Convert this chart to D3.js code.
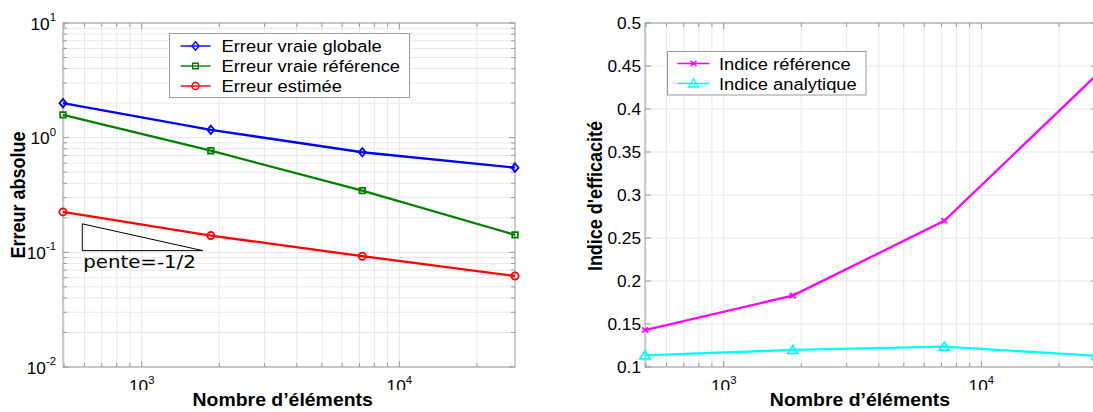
<!DOCTYPE html>
<html>
<head>
<meta charset="utf-8">
<script src="https://cdn.jsdelivr.net/npm/d3@7"></script>
<style>
  html, body { margin: 0; padding: 0; background: #fff; }
  svg { display: block; }
</style>
</head>
<body>
<svg id="fig" width="1093" height="412"></svg>
<script>
// ---- data ----
const elements      = [495, 1855, 7180, 28100];        // Nombre d'éléments
const errGlobal     = [2.0, 1.17, 0.746, 0.547];        // Erreur vraie globale
const errReference  = [1.58, 0.77, 0.345, 0.142];       // Erreur vraie référence
const errEstimated  = [0.225, 0.140, 0.0925, 0.0622];   // Erreur estimée
const idxReference  = [0.143, 0.183, 0.270, 0.440];     // Indice référence
const idxAnalytic   = [0.1136, 0.1198, 0.1236, 0.113];  // Indice analytique
const errExponents  = [-2, -1, 0, 1];                   // y ticks, left panel (10^k)
const nExponents    = [3, 4];                           // x ticks (10^k)
const idxTicks      = [0.1, 0.15, 0.2, 0.25, 0.3, 0.35, 0.4, 0.45, 0.5];
const slopeN        = [588, 1725];                      // slope triangle extent
const slopeBase     = 0.1035;
const slopeValue    = -0.5;

// ---- styling ----
const SX = 1.08;                       // slight horizontal stretch of text
const FONT = "'Liberation Sans', Arial, Helvetica, sans-serif";
const GRID = "#e8e8e8", BOX = "#9c9c9c";
const svg = d3.select("#fig");

function text(g, x, y, str, o = {}) {
  const t = g.append("text")
    .attr("transform", `translate(${x},${y}) scale(${SX},1)` + (o.rotate ? ` rotate(${o.rotate})` : ""))
    .attr("font-family", o.family || FONT)
    .attr("font-size", o.size || 16)
    .attr("font-weight", o.weight || "normal")
    .attr("text-anchor", o.anchor || "start")
    .attr("fill", "#000")
    .text(str);
  return t;
}
function powText(g, x, y, exp, anchor) {
  const t = g.append("text")
    .attr("transform", `translate(${x},${y}) scale(${SX},1)`)
    .attr("font-family", FONT).attr("font-size", 16)
    .attr("text-anchor", anchor).attr("fill", "#000");
  t.append("tspan").text("10");
  t.append("tspan").attr("dy", -8.5).attr("font-size", 10.5).text(String(exp));
}
function logValues(domain) {
  const out = [];
  const lo = Math.floor(Math.log10(domain[0])), hi = Math.ceil(Math.log10(domain[1]));
  for (let d = lo; d <= hi; d++)
    for (let k = 1; k <= 9; k++) {
      const v = k * Math.pow(10, d);
      if (v >= domain[0] * 0.9999 && v <= domain[1] * 1.0001) out.push({ v, major: k === 1 });
    }
  return out;
}

// Draws grid, frame and inner ticks of one panel
function frame(g, x, y, xVals, yVals) {
  const [x0, x1] = x.range(), [y0, y1] = y.range();
  g.append("rect").attr("x", x0).attr("y", y1).attr("width", x1 - x0).attr("height", y0 - y1).attr("fill", "#fff");
  g.selectAll(null).data(xVals).join("line")
    .attr("x1", d => x(d.v)).attr("x2", d => x(d.v)).attr("y1", y1).attr("y2", y0)
    .attr("stroke", GRID).attr("stroke-width", 1);
  g.selectAll(null).data(yVals).join("line")
    .attr("y1", d => y(d.v)).attr("y2", d => y(d.v)).attr("x1", x0).attr("x2", x1)
    .attr("stroke", GRID).attr("stroke-width", 1);
  const tk = g.append("g").attr("stroke", BOX).attr("stroke-width", 1);
  xVals.forEach(d => {
    const L = d.major ? 6 : 4, px = x(d.v);
    tk.append("line").attr("x1", px).attr("x2", px).attr("y1", y0).attr("y2", y0 - L);
    tk.append("line").attr("x1", px).attr("x2", px).attr("y1", y1).attr("y2", y1 + L);
  });
  yVals.forEach(d => {
    const L = d.major ? 6 : 4, py = y(d.v);
    tk.append("line").attr("y1", py).attr("y2", py).attr("x1", x0).attr("x2", x0 + L);
    tk.append("line").attr("y1", py).attr("y2", py).attr("x1", x1).attr("x2", x1 - L);
  });
  g.append("rect").attr("x", x0).attr("y", y1).attr("width", x1 - x0).attr("height", y0 - y1)
    .attr("fill", "none").attr("stroke", BOX).attr("stroke-width", 1);
}

const markers = {
  diamond:  "M0,-4.2L3.5,0L0,4.2L-3.5,0Z",
  square:   "M-2.8,-2.8H2.8V2.8H-2.8Z",
  circle:   d3.symbol(d3.symbolCircle, 40)(),
  triangle: "M0,-4.5L5,3.5L-5,3.5Z",
  cross:    "M-3,-2.6L3,2.6M-3,2.6L3,-2.6"
};
function series(g, x, y, xs, ys, color, marker) {
  g.append("path").datum(ys)
    .attr("d", d3.line().x((d, i) => x(xs[i])).y(d => y(d)))
    .attr("fill", "none").attr("stroke", color).attr("stroke-width", 2.3);
  g.selectAll(null).data(ys).join("path")
    .attr("transform", (d, i) => `translate(${x(xs[i])},${y(d)})`)
    .attr("d", markers[marker]).attr("fill", "none").attr("stroke", color).attr("stroke-width", 1.8);
}
function legend(g, box, rows) {
  g.append("rect").attr("x", box.x).attr("y", box.y).attr("width", box.w).attr("height", box.h)
    .attr("fill", "#fff").attr("stroke", BOX).attr("stroke-width", 1);
  rows.forEach((r, i) => {
    const cy = box.y + box.first + i * 20;
    g.append("line").attr("x1", box.x + box.lx0).attr("x2", box.x + box.lx1).attr("y1", cy).attr("y2", cy)
      .attr("stroke", r.color).attr("stroke-width", 1.4);
    g.append("path").attr("transform", `translate(${box.x + (box.lx0 + box.lx1) / 2},${cy})`)
      .attr("d", markers[r.marker]).attr("fill", "none").attr("stroke", r.color).attr("stroke-width", 1.4);
    text(g, box.x + box.tx, cy + 6, r.label, { size: 17 });
  });
}

// ---- left panel: absolute error (log-log) ----
const gL = svg.append("g");
const xL = d3.scaleLog().domain(d3.extent(elements)).range([63, 515]);
const yL = d3.scaleLog().domain([0.01, 10]).range([367, 23]);
frame(gL, xL, yL, logValues(xL.domain()), logValues(yL.domain()));

// slope triangle
const tri = [[slopeN[0], slopeBase * Math.pow(slopeN[1] / slopeN[0], -slopeValue)],
             [slopeN[0], slopeBase], [slopeN[1], slopeBase]];
gL.append("path").attr("d", "M" + tri.map(p => [xL(p[0]), yL(p[1])].join(",")).join("L") + "Z")
  .attr("fill", "none").attr("stroke", "#000").attr("stroke-width", 1);
text(gL, xL(slopeN[0]) + 1, yL(slopeBase) + 17.5, "pente=-1/2",
     { family: "'DejaVu Sans', Verdana, sans-serif", size: 18.3 });

series(gL, xL, yL, elements, errGlobal, "#0000ff", "diamond");
series(gL, xL, yL, elements, errReference, "#008000", "square");
series(gL, xL, yL, elements, errEstimated, "#ff0000", "circle");

legend(gL, { x: 169.5, y: 33.5, w: 240, h: 64, first: 12.5, lx0: 11, lx1: 41, tx: 52 }, [
  { label: "Erreur vraie globale", color: "#0000ff", marker: "diamond" },
  { label: "Erreur vraie référence", color: "#008000", marker: "square" },
  { label: "Erreur estimée", color: "#ff0000", marker: "circle" }
]);

errExponents.forEach(k => powText(gL, 56, yL(Math.pow(10, k)) + 6.5, k, "end"));
nExponents.forEach(k => powText(gL, xL(Math.pow(10, k)), 392, k, "middle"));

// ---- right panel: efficiency index (semilog x) ----
const gR = svg.append("g");
const xR = d3.scaleLog().domain(d3.extent(elements)).range([645, 1097]);
const yR = d3.scaleLinear().domain([0.1, 0.5]).range([367, 23]);
frame(gR, xR, yR, logValues(xR.domain()), idxTicks.map(v => ({ v, major: true })));

series(gR, xR, yR, elements, idxReference, "#ff00ff", "cross");
series(gR, xR, yR, elements, idxAnalytic, "#00ffff", "triangle");

legend(gR, { x: 667.5, y: 51.5, w: 198.5, h: 43.5, first: 12, lx0: 10, lx1: 42, tx: 51.5 }, [
  { label: "Indice référence", color: "#ff00ff", marker: "cross" },
  { label: "Indice analytique", color: "#00ffff", marker: "triangle" }
]);

idxTicks.forEach(v => text(gR, 641, yR(v) + 6, String(v), { anchor: "end", size: 16 }));
nExponents.forEach(k => powText(gR, xR(Math.pow(10, k)), 392, k, "middle"));

// band under the tick labels, then the axis titles
svg.append("rect").attr("x", 0).attr("y", 390).attr("width", 1093).attr("height", 22).attr("fill", "#fff");
text(svg, 282.7, 406, "Nombre d’éléments", { anchor: "middle", size: 18, weight: "bold" });
text(svg, 860, 406, "Nombre d’éléments", { anchor: "middle", size: 18, weight: "bold" });
text(svg, 25, 195, "Erreur absolue", { anchor: "middle", size: 18, weight: "bold", rotate: -90 });
text(svg, 601.5, 196, "Indice d'efficacité", { anchor: "middle", size: 18, weight: "bold", rotate: -90 });
</script>
</body>
</html>
